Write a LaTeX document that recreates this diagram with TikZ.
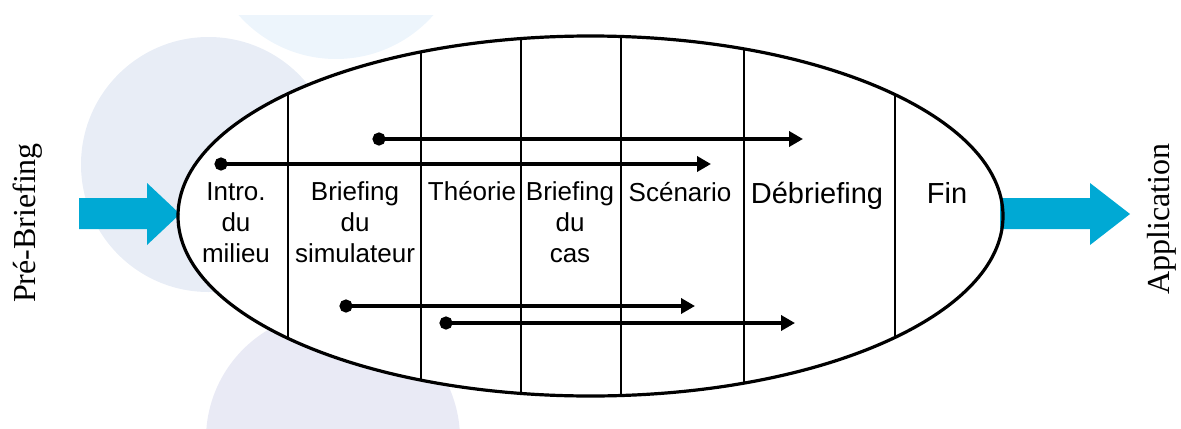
\documentclass[tikz,border=0pt]{standalone}
\usepackage{fontspec}
\setmainfont{Liberation Serif}
\setsansfont{Liberation Sans}
\usetikzlibrary{arrows.meta}
\definecolor{fleche}{RGB}{0,169,212}
\definecolor{rondA}{RGB}{237,245,252}
\definecolor{rondB}{RGB}{232,237,246}
\definecolor{rondC}{RGB}{233,234,245}

\begin{document}
\begin{tikzpicture}[x=0.5pt, y=-0.5pt, line join=round,
		>={Triangle[length=7pt,width=7.5pt]},
		etape/.style={font=\sffamily\fontsize{13}{15.5}\selectfont, align=center, anchor=base, inner sep=0pt},
		grande/.style={font=\sffamily\fontsize{14.5}{17}\selectfont, anchor=base, inner sep=0pt},
		cote/.style={font=\fontsize{16}{19}\selectfont, rotate=90, inner sep=0pt},
		ligne/.style={line width=2pt, arrows={Circle[length=6.5pt]->}}]
	\useasboundingbox (0,0) rectangle (1181,428);
	\def\cx{590.5}\def\cy{216}\def\rx{412.5}\def\ry{180}
	% fond
	\begin{scope}
		\clip (0,15) rectangle (1181,428);
		\fill[rondA] (336,-71) circle (130);
	\end{scope}
	\fill[rondB] (208.5,164.5) circle (127.5);
	\fill[rondC] (333,439) circle (127);
	\fill[white] (\cx,\cy) ellipse [x radius=\rx, y radius=\ry];
	% fleches bleues
	\fill[fleche] (79,198) -- (147,198) -- (147,183) -- (180,214) -- (147,245) -- (147,229) -- (79,229) -- cycle;
	\fill[fleche] (1000,198) -- (1090,198) -- (1090,183) -- (1130,214) -- (1090,245) -- (1090,229) -- (1000,229) -- cycle;
	% colonnes
	\begin{scope}
		\clip (\cx,\cy) ellipse [x radius=\rx, y radius=\ry];
		\foreach \xs in {288,421,521,621,744,895}{
			\draw[line width=1pt] (\xs,0) -- (\xs,428);
		}
	\end{scope}
	\draw[line width=1.6pt] (\cx,\cy) ellipse [x radius=\rx, y radius=\ry];
	% etapes (base = derniere ligne)
	\node[etape] (intro) at (236,262) {Intro.\\du\\milieu};
	\node[etape] (simu) at (355,262) {Briefing\\du\\simulateur};
	\node[etape] (theorie) at (472,200) {Théorie};
	\node[etape] (cas) at (570,262) {Briefing\\du\\cas};
	\node[etape] (scenario) at (680,201) {Scénario};
	\node[grande] (debrief) at (817,203) {Débriefing};
	\node[grande] (fin) at (947,203) {Fin};
	\node[cote] (prebrief) at (28,223) {Pré-Briefing};
	\node[cote] (appli) at (1161.5,219) {Application};
	% lignes de temps
	\foreach \xa/\xb/\yl [count=\i] in {372.5/803/139, 214.5/711/164, 339.5/695/306, 439.5/795/323}{
		\coordinate (d\i) at (\xa,\yl);
		\coordinate (f\i) at (\xb,\yl);
		\draw[ligne] (d\i) -- (f\i);
	}
\end{tikzpicture}
\end{document}
